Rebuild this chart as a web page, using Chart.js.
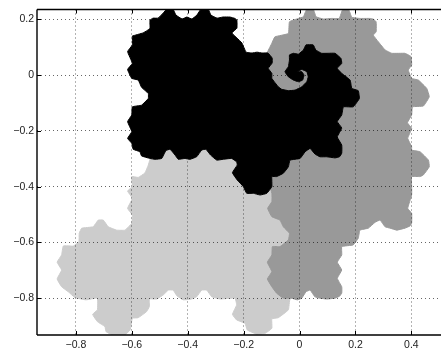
<!DOCTYPE html>
<html><head><meta charset="utf-8">
<style>html,body{margin:0;padding:0;background:#fff}canvas{display:block}</style>
<script src="https://cdn.jsdelivr.net/npm/chart.js@4"></script>
</head><body><canvas id="c" width="441" height="351"></canvas>
<script>
const xTickValues=[-0.8,-0.6,-0.4,-0.2,0,0.2,0.4];
const yTickValues=[0.2,0,-0.2,-0.4,-0.6,-0.8];
const blackX=[-.598,-.560,-.546,-.535,-.535,-.524,-.506,-.488,-.474,-.453,-.442,-.420,-.403,-.385,-.367,-.352,-.327,-.317,-.295,-.274,-.249,-.231,-.224,-.224,-.242,-.224,-.206,-.191,-.170,-.152,-.134,-.113,-.098,-.098,-.112,-.099,-.099,-.076,-.064,-.040,-.016,.008,.026,.031,.026,.008,-.008,.008,.016,.011,-.004,-.022,-.040,-.052,-.040,-.036,-.036,-.022,-.004,.014,.023,.049,.058,.079,.103,.127,.148,.151,.135,.151,.181,.187,.210,.214,.192,.157,.151,.135,.151,.135,.151,.151,.143,.127,.097,.073,.055,.038,.020,.002,-.034,-.040,-.058,-.082,-.099,-.099,-.117,-.141,-.165,-.189,-.201,-.223,-.240,-.223,-.225,-.243,-.273,-.296,-.318,-.335,-.350,-.368,-.392,-.410,-.434,-.445,-.463,-.478,-.493,-.517,-.535,-.565,-.571,-.595,-.600,-.615,-.600,-.615,-.600,-.598,-.565,-.541,-.541,-.565,-.577,-.600,-.615,-.598,-.615,-.598,-.598];
const blackY=[.140,.151,.159,.168,.197,.204,.204,.222,.237,.237,.215,.201,.208,.201,.215,.237,.237,.215,.204,.208,.208,.203,.197,.168,.151,.133,.115,.082,.079,.082,.079,.079,.061,.043,.024,.006,-.012,-.042,-.051,-.056,-.054,-.042,-.024,-.006,.012,.020,.012,.012,0,-.018,-.024,-.018,-.006,.012,.030,.054,.072,.078,.075,.090,.108,.108,.090,.078,.078,.078,.060,.042,.024,.006,-.018,-.048,-.056,-.084,-.114,-.114,-.143,-.167,-.190,-.222,-.251,-.280,-.293,-.297,-.293,-.293,-.283,-.263,-.275,-.299,-.305,-.329,-.352,-.364,-.364,-.400,-.424,-.430,-.424,-.424,-.400,-.376,-.350,-.323,-.311,-.299,-.302,-.305,-.287,-.266,-.269,-.293,-.302,-.299,-.302,-.287,-.266,-.271,-.299,-.302,-.299,-.290,-.275,-.266,-.245,-.227,-.203,-.167,-.143,-.114,-.108,-.084,-.066,-.044,-.018,-.012,.020,.042,.084,.108,.140];
const grayX=[-.114,-.099,-.088,-.040,-.036,-.004,.014,.026,.049,.059,.085,.115,.142,.155,.175,.187,.216,.252,.263,.274,.274,.264,.282,.306,.330,.377,.388,.399,.401,.389,.401,.425,.455,.464,.443,.404,.401,.386,.401,.387,.401,.401,.431,.461,.464,.443,.431,.401,.401,.401,.387,.401,.401,.395,.377,.348,.324,.306,.288,.270,.246,.216,.210,.192,.151,.151,.135,.151,.135,.151,.151,.143,.127,.097,.073,.055,.038,.023,.008,-.008,-.028,-.058,-.082,-.099,-.115,-.099,-.115,-.099,-.097,-.070,-.040,-.036,-.058,-.070,-.099,-.114,-.099,-.099,-.123,-.134,-.114];
const grayY=[.084,.114,.137,.149,.191,.203,.209,.237,.237,.209,.201,.203,.203,.237,.237,.207,.203,.203,.201,.191,.155,.143,.119,.090,.078,.078,.073,.066,.036,.018,-.012,-.018,-.048,-.078,-.111,-.114,-.143,-.171,-.191,-.227,-.257,-.269,-.275,-.305,-.329,-.358,-.364,-.364,-.400,-.430,-.478,-.496,-.531,-.541,-.549,-.556,-.549,-.544,-.520,-.528,-.549,-.556,-.585,-.609,-.615,-.645,-.671,-.699,-.729,-.759,-.782,-.793,-.800,-.803,-.800,-.795,-.771,-.777,-.800,-.806,-.800,-.800,-.782,-.759,-.731,-.705,-.671,-.645,-.615,-.615,-.591,-.567,-.544,-.520,-.508,-.478,-.454,-.424,-.340,.054,.084];
const lightX=[-.535,-.541,-.553,-.577,-.600,-.598,-.615,-.598,-.615,-.598,-.600,-.624,-.654,-.684,-.702,-.720,-.738,-.779,-.788,-.789,-.809,-.845,-.851,-.867,-.851,-.867,-.851,-.827,-.803,-.764,-.723,-.723,-.740,-.723,-.696,-.692,-.660,-.630,-.606,-.598,-.577,-.547,-.537,-.537,-.511,-.487,-.469,-.452,-.439,-.416,-.386,-.368,-.350,-.332,-.314,-.284,-.231,-.225,-.240,-.225,-.195,-.187,-.153,-.123,-.099,-.099,-.076,-.040,-.034,.002,.002,-.106,-.177,-.499,-.535,-.535];
const lightY=[-.302,-.323,-.351,-.367,-.364,-.400,-.416,-.442,-.478,-.502,-.531,-.556,-.556,-.544,-.520,-.520,-.544,-.549,-.567,-.597,-.613,-.613,-.645,-.671,-.699,-.731,-.759,-.777,-.798,-.806,-.800,-.842,-.858,-.884,-.902,-.920,-.936,-.936,-.914,-.872,-.870,-.848,-.830,-.803,-.803,-.788,-.771,-.771,-.791,-.806,-.803,-.795,-.771,-.771,-.795,-.803,-.800,-.824,-.858,-.878,-.890,-.914,-.929,-.926,-.908,-.874,-.870,-.842,-.803,-.788,-.556,-.412,-.269,-.233,-.269,-.302];
const pts=(xs,ys)=>xs.map((x,i)=>({x,y:ys[i]}));
const shape=(xs,ys,color)=>({data:pts(xs,ys),showLine:true,fill:'shape',backgroundColor:color,borderColor:color,borderWidth:1,pointRadius:0,tension:0.1});
const frame={id:'frame',afterDraw(ch){
  const {ctx,chartArea:a,scales:{x,y}}=ch;
  ctx.save();ctx.strokeStyle='#000';ctx.lineWidth=1;
  ctx.beginPath();
  xTickValues.forEach(v=>{const p=Math.round(x.getPixelForValue(v))+.5;ctx.moveTo(p,a.top);ctx.lineTo(p,a.top+4);ctx.moveTo(p,a.bottom);ctx.lineTo(p,a.bottom-4);});
  yTickValues.forEach(v=>{const p=Math.round(y.getPixelForValue(v))+.5;ctx.moveTo(a.left,p);ctx.lineTo(a.left+4,p);});
  ctx.stroke();
  ctx.lineWidth=1.4;ctx.beginPath();
  ctx.moveTo(a.left,a.top);ctx.lineTo(a.right,a.top);
  ctx.moveTo(a.left,a.bottom);ctx.lineTo(a.right,a.bottom);
  ctx.moveTo(a.left,a.top);ctx.lineTo(a.left,a.bottom);
  ctx.stroke();ctx.restore();
}};
const fmt=v=>{const r=Math.round(v*10)/10;return r===0?'0':(r<0?'\u2212':'')+Math.abs(r).toFixed(1);};
const font={family:'"Liberation Sans",Arial,sans-serif',size:10.5};
const gridOpts={z:1,color:'rgba(0,0,0,0.6)',lineWidth:1,drawTicks:false};
const borderOpts={display:false,dash:[1,3]};
new Chart(document.getElementById('c'),{
  type:'scatter',
  data:{datasets:[shape(blackX,blackY,'#000'),shape(grayX,grayY,'#999'),shape(lightX,lightY,'#ccc')]},
  plugins:[frame],
  options:{responsive:false,animation:false,devicePixelRatio:1,
    layout:{padding:{top:9.5,right:0,bottom:0,left:0}},
    plugins:{legend:{display:false},tooltip:{enabled:false}},
    scales:{
      x:{type:'linear',min:-0.939,max:0.506,
        afterFit(s){s.height=16;},
        afterBuildTicks(s){s.ticks=xTickValues.map(value=>({value}));},
        border:borderOpts,grid:gridOpts,
        ticks:{font,color:'#222',padding:4,maxRotation:0,callback:fmt}},
      y:{type:'linear',min:-0.932,max:0.235,
        afterFit(s){s.width=37;},
        afterBuildTicks(s){s.ticks=yTickValues.map(value=>({value}));},
        border:borderOpts,grid:gridOpts,
        ticks:{font,color:'#222',padding:3,callback:fmt}}
    }}
});
</script></body></html>
